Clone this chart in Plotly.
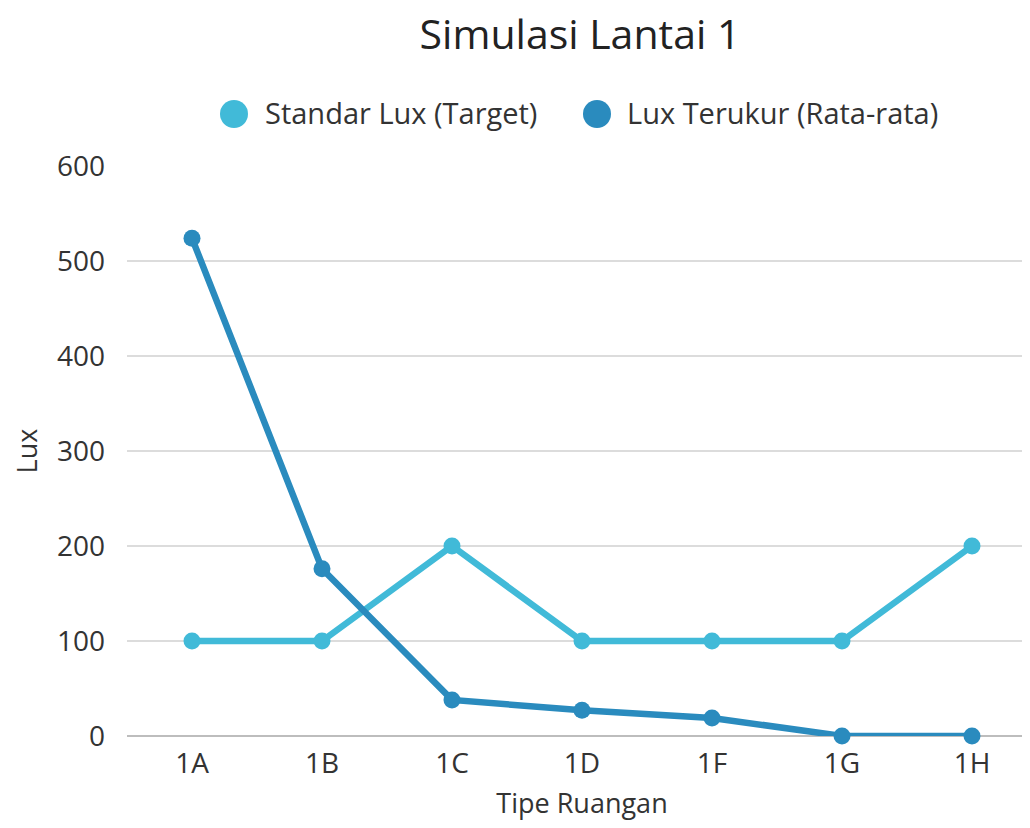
import plotly.graph_objects as go

categories = ["1A", "1B", "1C", "1D", "1F", "1G", "1H"]
standar_lux = [100, 100, 200, 100, 100, 100, 200]
lux_terukur = [524, 176, 38, 27, 19, 0, 0]

name_std = "Standar Lux (Target)"
name_ukur = "Lux Terukur (Rata-rata)"
c_std = "#41BAD8"
c_ukur = "#2A8BBE"

# plot area geometry (figure pixels)
L, T, W, H = 119, 158, 910, 570
FW, FH = 1030, 828


def px_x(fx):
    return (fx - L) / W


def px_y(fy):
    return (T + H - fy) / H


fig = go.Figure()
fig.add_trace(go.Scatter(x=categories, y=standar_lux, mode="lines+markers", name=name_std,
                         line=dict(color=c_std, width=6.5), marker=dict(size=17, color=c_std),
                         showlegend=False, cliponaxis=False))
fig.add_trace(go.Scatter(x=categories, y=lux_terukur, mode="lines+markers", name=name_ukur,
                         line=dict(color=c_ukur, width=6.5), marker=dict(size=17, color=c_ukur),
                         showlegend=False, cliponaxis=False))

# custom legend (circle + label)
legend_items = [(name_std, c_std, 226, 255), (name_ukur, c_ukur, 589, 617)]
shapes = []
annotations = []
for name, col, cx, tx in legend_items:
    shapes.append(dict(type="circle", xref="paper", yref="paper", xsizemode="pixel", ysizemode="pixel",
                       xanchor=px_x(cx), yanchor=px_y(106), x0=-14, x1=14, y0=-14, y1=14,
                       fillcolor=col, line=dict(width=0)))
    annotations.append(dict(text=name, xref="paper", yref="paper", x=px_x(tx), y=px_y(105),
                            xanchor="left", yanchor="middle", showarrow=False,
                            font=dict(size=29, color="#333333")))

fig.update_layout(
    width=FW, height=FH,
    margin=dict(l=L, r=FW - L - W, t=T, b=FH - T - H),
    paper_bgcolor="white", plot_bgcolor="white",
    font=dict(family="Open Sans", size=28, color="#333333"),
    title=dict(text="Simulasi Lantai 1", x=572 / FW, xanchor="center", y=1 - 27 / FH, yanchor="middle",
               font=dict(size=41, color="#222222")),
    showlegend=False,
    shapes=shapes,
    annotations=annotations,
    xaxis=dict(type="category", range=[-0.5, 6.5], showgrid=False,
               title=dict(text="Tipe Ruangan", font=dict(size=27), standoff=14), ticks="",
               tickfont=dict(size=28), showline=False, zeroline=False, ticklabelstandoff=8),
    yaxis=dict(range=[0, 600], tickvals=[0, 100, 200, 300, 400, 500, 600], showgrid=True,
               gridcolor="#DCDCDC", gridwidth=2, zeroline=True, zerolinecolor="#BDBDBD", zerolinewidth=2,
               title=dict(text="Lux", font=dict(size=27), standoff=29), tickfont=dict(size=28),
               ticks="", ticklabelstandoff=21),
)

fig.write_html("out.html")
